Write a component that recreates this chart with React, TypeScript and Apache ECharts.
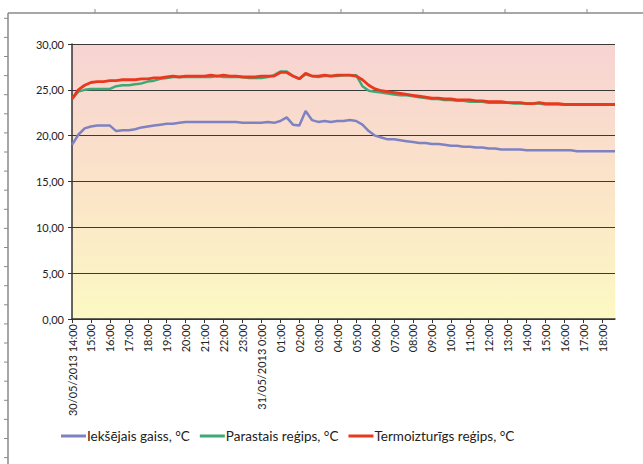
import React, { useEffect, useRef } from "react";
import * as echarts from "echarts";

// Hour tick labels (x axis)
const hourLabels = [
  "30/05/2013 14:00", "15:00", "16:00", "17:00", "18:00", "19:00", "20:00", "21:00", "22:00", "23:00",
  "31/05/2013 0:00", "01:00", "02:00", "03:00", "04:00", "05:00", "06:00", "07:00", "08:00", "09:00",
  "10:00", "11:00", "12:00", "13:00", "14:00", "15:00", "16:00", "17:00", "18:00",
];
// sub-hour steps (20 min)
const subSteps = ["", ":20", ":40"];

const seriesNames = ["Iekšējais gaiss, °C", "Parastais reģips, °C", "Termoizturīgs reģips, °C"];

// values every 20 minutes from 30/05 14:00 to 31/05 18:40
const indoorAir = [
  19.0, 20.1, 20.8, 21.0, 21.1, 21.1, 21.1, 20.5, 20.6, 20.6,
  20.7, 20.9, 21.0, 21.1, 21.2, 21.3, 21.3, 21.4, 21.5, 21.5,
  21.5, 21.5, 21.5, 21.5, 21.5, 21.5, 21.5, 21.4, 21.4, 21.4,
  21.4, 21.5, 21.4, 21.6, 22.0, 21.2, 21.1, 22.7, 21.7, 21.5,
  21.6, 21.5, 21.6, 21.6, 21.7, 21.6, 21.2, 20.5, 20.0, 19.8,
  19.6, 19.6, 19.5, 19.4, 19.3, 19.2, 19.2, 19.1, 19.1, 19.0,
  18.9, 18.9, 18.8, 18.8, 18.7, 18.7, 18.6, 18.6, 18.5, 18.5,
  18.5, 18.5, 18.4, 18.4, 18.4, 18.4, 18.4, 18.4, 18.4, 18.4,
  18.3, 18.3, 18.3, 18.3, 18.3, 18.3, 18.3,
];
const regularDrywall = [
  24.0, 24.8, 25.0, 25.1, 25.1, 25.1, 25.1, 25.4, 25.5, 25.5,
  25.6, 25.7, 25.9, 26.0, 26.2, 26.3, 26.4, 26.4, 26.4, 26.4,
  26.4, 26.4, 26.4, 26.5, 26.4, 26.4, 26.4, 26.4, 26.3, 26.3,
  26.3, 26.4, 26.6, 27.0, 27.0, 26.5, 26.2, 26.7, 26.5, 26.4,
  26.5, 26.5, 26.5, 26.6, 26.6, 26.6, 25.4, 24.9, 24.8, 24.7,
  24.6, 24.5, 24.4, 24.4, 24.3, 24.2, 24.1, 24.0, 24.0, 23.9,
  23.9, 23.8, 23.8, 23.7, 23.7, 23.7, 23.6, 23.6, 23.6, 23.6,
  23.5, 23.5, 23.5, 23.5, 23.5, 23.4, 23.4, 23.4, 23.4, 23.4,
  23.4, 23.4, 23.4, 23.4, 23.4, 23.4, 23.4,
];
const fireproofDrywall = [
  24.0, 25.0, 25.5, 25.8, 25.9, 25.9, 26.0, 26.0, 26.1, 26.1,
  26.1, 26.2, 26.2, 26.3, 26.3, 26.4, 26.5, 26.4, 26.5, 26.5,
  26.5, 26.5, 26.6, 26.5, 26.6, 26.5, 26.5, 26.4, 26.4, 26.4,
  26.5, 26.5, 26.5, 26.9, 26.9, 26.5, 26.2, 26.8, 26.5, 26.5,
  26.6, 26.5, 26.6, 26.6, 26.6, 26.5, 26.1, 25.5, 25.1, 24.9,
  24.8, 24.7, 24.6, 24.5, 24.4, 24.3, 24.2, 24.1, 24.1, 24.0,
  24.0, 23.9, 23.9, 23.9, 23.8, 23.8, 23.7, 23.7, 23.7, 23.6,
  23.6, 23.6, 23.5, 23.5, 23.6, 23.5, 23.5, 23.5, 23.4, 23.4,
  23.4, 23.4, 23.4, 23.4, 23.4, 23.4, 23.4,
];

const categories: string[] = [];
hourLabels.forEach((h) => {
  subSteps.forEach((s, k) => {
    categories.push(k === 0 ? h : `${h}${s}`);
  });
});

const FONT = "Lato, 'Liberation Sans', sans-serif";

export default function App() {
  const ref = useRef<HTMLDivElement>(null);
  useEffect(() => {
    if (!ref.current) return;
    const chart = echarts.init(ref.current, undefined, { renderer: "svg" });
    const n = indoorAir.length;
    const cats = categories.slice(0, n);

    const frame: any[] = [
      { type: "line", shape: { x1: 8, y1: 13, x2: 643, y2: 13 }, style: { stroke: "#8a8a8a", lineWidth: 1.5 } },
      { type: "line", shape: { x1: 8, y1: 13, x2: 8, y2: 464 }, style: { stroke: "#8a8a8a", lineWidth: 1.5 } },
    ];
    for (let x = 95; x < 643; x += 82) {
      frame.push({ type: "line", shape: { x1: x, y1: 9, x2: x, y2: 13 }, style: { stroke: "#8a8a8a", lineWidth: 1 } });
    }
    for (let y = 18.3; y < 464; y += 19.1) {
      frame.push({ type: "line", shape: { x1: 4, y1: y, x2: 8, y2: y }, style: { stroke: "#8a8a8a", lineWidth: 1 } });
    }

    chart.setOption({
      animation: false,
      backgroundColor: "#ffffff",
      textStyle: { fontFamily: FONT },
      graphic: frame,
      grid: {
        left: 72,
        top: 44,
        right: 28,
        bottom: 145,
        show: true,
        borderWidth: 0,
        backgroundColor: {
          type: "linear",
          x: 0, y: 0, x2: 0, y2: 1,
          colorStops: [
            { offset: 0, color: "#f7d3d2" },
            { offset: 0.5, color: "#fbe3c9" },
            { offset: 1, color: "#fcf9c3" },
          ],
        },
      },
      legend: {
        top: 429,
        left: 61,
        padding: 0,
        icon: "rect",
        itemWidth: 25,
        itemHeight: 3,
        itemGap: 10,
        data: seriesNames,
        textStyle: { fontFamily: FONT, fontSize: 13.5, color: "#222", padding: [0, 0, 0, -4] },
      },
      xAxis: {
        type: "category",
        data: cats,
        boundaryGap: false,
        axisLine: { lineStyle: { color: "#333", width: 1.5 } },
        axisTick: {
          show: true,
          interval: (i: number) => i % 3 === 0,
          length: 4,
          lineStyle: { color: "#333" },
        },
        axisLabel: {
          interval: (i: number) => i % 3 === 0,
          rotate: 90,
          fontSize: 11,
          color: "#222",
          fontFamily: FONT,
          margin: 5,
        },
        splitLine: { show: false },
      },
      yAxis: {
        type: "value",
        min: 0,
        max: 30,
        interval: 5,
        axisLine: { show: true, lineStyle: { color: "#333", width: 1.5 } },
        axisTick: { show: true, length: 4, lineStyle: { color: "#333" } },
        axisLabel: {
          formatter: (v: number) => v.toFixed(2).replace(".", ","),
          fontSize: 11,
          color: "#222",
          fontFamily: FONT,
          margin: 8,
        },
        splitLine: { show: true, lineStyle: { color: "#3a3a3a", width: 1 } },
      },
      series: [
        { name: seriesNames[0], type: "line", data: indoorAir, symbol: "none", lineStyle: { width: 2.5, color: "#7e82c2" }, itemStyle: { color: "#7e82c2" } },
        { name: seriesNames[1], type: "line", data: regularDrywall, symbol: "none", lineStyle: { width: 2.5, color: "#3fa877" }, itemStyle: { color: "#3fa877" } },
        { name: seriesNames[2], type: "line", data: fireproofDrywall, symbol: "none", lineStyle: { width: 2.8, color: "#e8391f" }, itemStyle: { color: "#e8391f" } },
      ],
    });
    return () => chart.dispose();
  }, []);
  return <div ref={ref} style={{ position: "fixed", left: 0, top: 0, width: 643, height: 464 }} />;
}
